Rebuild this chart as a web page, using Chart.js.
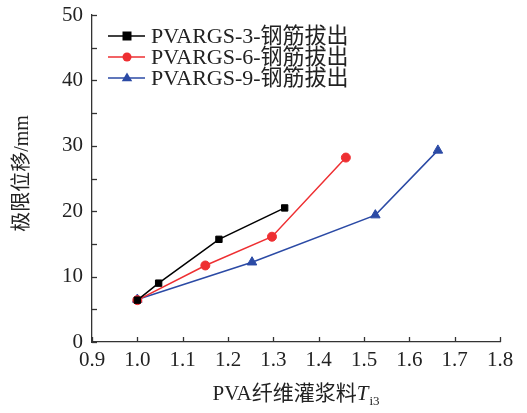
<!DOCTYPE html>
<html>
<head>
<meta charset="utf-8">
<script src="https://cdn.jsdelivr.net/npm/chart.js@4/dist/chart.umd.min.js"></script>
<style>
html,body{margin:0;padding:0;background:#fff;}
#wrap{width:527px;height:413px;position:relative;}
</style>
</head>
<body>
<div id="wrap"><canvas id="c" width="527" height="413"></canvas></div>
<script>
// Data
const seriesNames = ['PVARGS-3-钢筋拔出', 'PVARGS-6-钢筋拔出', 'PVARGS-9-钢筋拔出'];
const x3 = [1.0, 1.047, 1.18, 1.325];
const y3 = [6.4, 9.0, 15.7, 20.5];
const x6 = [1.0, 1.15, 1.297, 1.46];
const y6 = [6.4, 11.7, 16.1, 28.2];
const x9 = [1.0, 1.253, 1.525, 1.663];
const y9 = [6.5, 12.2, 19.4, 29.3];
const xTicks = [0.9, 1.0, 1.1, 1.2, 1.3, 1.4, 1.5, 1.6, 1.7, 1.8];
const yTicks = [0, 10, 20, 30, 40, 50];
const yMinorTicks = [5, 15, 25, 35, 45];
const xTitle = 'PVA纤维灌浆料';
const xTitleVar = 'T';
const xTitleSub = 'i3';
const yTitle = '极限位移/mm';

const colors = ['#000000', '#ee2f32', '#2b4aa5'];
const styles = ['rect', 'circle', 'triangle'];
const radii = [4.5, 4.5, 5.5];
const FONT = '"Liberation Serif", "Times New Roman", "Noto Sans CJK SC", serif';

function pts(xs, ys){ return xs.map((x,i)=>({x:x, y:ys[i]})); }
const allData = [pts(x3,y3), pts(x6,y6), pts(x9,y9)];

const datasets = allData.map((d,i)=>({
  label: seriesNames[i],
  data: d,
  borderColor: colors[i],
  backgroundColor: colors[i],
  pointBackgroundColor: colors[i],
  pointBorderColor: colors[i],
  pointStyle: styles[i],
  pointRadius: radii[i],
  borderWidth: 1.5,
  pointBorderWidth: 1,
  showLine: true,
  tension: 0
}));

function drawMarker(ctx, style, x, y, r, color){
  ctx.save();
  ctx.fillStyle = color;
  ctx.beginPath();
  if(style==='rect'){ ctx.rect(x-r, y-r, 2*r, 2*r); }
  else if(style==='circle'){ ctx.arc(x, y, r, 0, Math.PI*2); }
  else { ctx.moveTo(x, y-r); ctx.lineTo(x+r*0.95, y+r*0.6); ctx.lineTo(x-r*0.95, y+r*0.6); ctx.closePath(); }
  ctx.fill();
  ctx.restore();
}

const decor = {
  id: 'decor',
  afterDraw(chart){
    const ctx = chart.ctx;
    const xs = chart.scales.x, ys = chart.scales.y;
    const ca = chart.chartArea;
    ctx.save();
    ctx.strokeStyle = '#333';
    ctx.lineWidth = 1.3;
    xTicks.forEach(v=>{
      const px = Math.round(xs.getPixelForValue(v))+0.5;
      ctx.beginPath(); ctx.moveTo(px, ca.bottom); ctx.lineTo(px, ca.bottom-5); ctx.stroke();
    });
    yTicks.concat(yMinorTicks).forEach(v=>{
      const py = Math.round(ys.getPixelForValue(v))+0.5;
      ctx.beginPath(); ctx.moveTo(ca.left, py); ctx.lineTo(ca.left+5, py); ctx.stroke();
    });
    // x title
    ctx.fillStyle = '#222';
    ctx.textBaseline = 'alphabetic';
    ctx.font = '21px ' + FONT;
    const w1 = ctx.measureText(xTitle).width;
    ctx.font = 'italic 21px ' + FONT;
    const w2 = ctx.measureText(xTitleVar).width;
    ctx.font = '13px ' + FONT;
    const w3 = ctx.measureText(xTitleSub).width;
    const total = w1 + w2 + w3 + 1;
    let sx = (ca.left + ca.right)/2 - total/2;
    const by = 400;
    ctx.textAlign = 'left';
    ctx.font = '21px ' + FONT;
    ctx.fillText(xTitle, sx, by);
    ctx.font = 'italic 21px ' + FONT;
    ctx.fillText(xTitleVar, sx + w1, by);
    ctx.font = '13px ' + FONT;
    ctx.fillText(xTitleSub, sx + w1 + w2 + 1, by + 5);
    // y title
    ctx.save();
    ctx.translate(23, (ca.top + ca.bottom)/2 - 5);
    ctx.rotate(-Math.PI/2);
    ctx.font = '20px ' + FONT;
    ctx.textAlign = 'center';
    ctx.textBaseline = 'middle';
    ctx.fillText(yTitle, 0, 0);
    ctx.restore();
    // legend
    const rows = [36, 57, 78];
    seriesNames.forEach((name,i)=>{
      const y = rows[i];
      ctx.strokeStyle = colors[i];
      ctx.lineWidth = 1.5;
      ctx.beginPath(); ctx.moveTo(108, y); ctx.lineTo(145, y); ctx.stroke();
      drawMarker(ctx, styles[i], 127, y, radii[i], colors[i]);
      ctx.fillStyle = '#222';
      ctx.font = '22px ' + FONT;
      ctx.textAlign = 'left';
      ctx.textBaseline = 'middle';
      ctx.fillText(name, 151, y + 1);
    });
    ctx.restore();
  }
};

new Chart(document.getElementById('c'), {
  type: 'line',
  data: { datasets: datasets },
  options: {
    responsive: false,
    animation: false,
    devicePixelRatio: 1,
    layout: { padding: { left: 0, right: 27, top: 15, bottom: 0 } },
    plugins: { legend: { display: false }, tooltip: { enabled: false } },
    scales: {
      x: {
        type: 'linear',
        min: 0.9, max: 1.8,
        afterBuildTicks(scale){ scale.ticks = xTicks.map(v=>({value:v})); },
        afterFit(scale){ scale.height = 71; scale.paddingLeft = 0; scale.paddingRight = 0; },
        grid: { display: false, drawTicks: false },
        border: { display: true, color: '#333', width: 1.3 },
        ticks: { color: '#222', font: { family: FONT, size: 21 }, padding: 6, maxRotation: 0,
          callback: v => Number(v).toFixed(1) }
      },
      y: {
        type: 'linear',
        min: 0, max: 50,
        afterBuildTicks(scale){ scale.ticks = yTicks.map(v=>({value:v})); },
        afterFit(scale){ scale.width = 92; scale.paddingTop = 0; scale.paddingBottom = 0; },
        grid: { display: false, drawTicks: false },
        border: { display: true, color: '#333', width: 1.3 },
        ticks: { color: '#222', font: { family: FONT, size: 21 }, padding: 9,
          callback: v => String(v) }
      }
    }
  },
  plugins: [decor]
});
</script>
</body>
</html>
